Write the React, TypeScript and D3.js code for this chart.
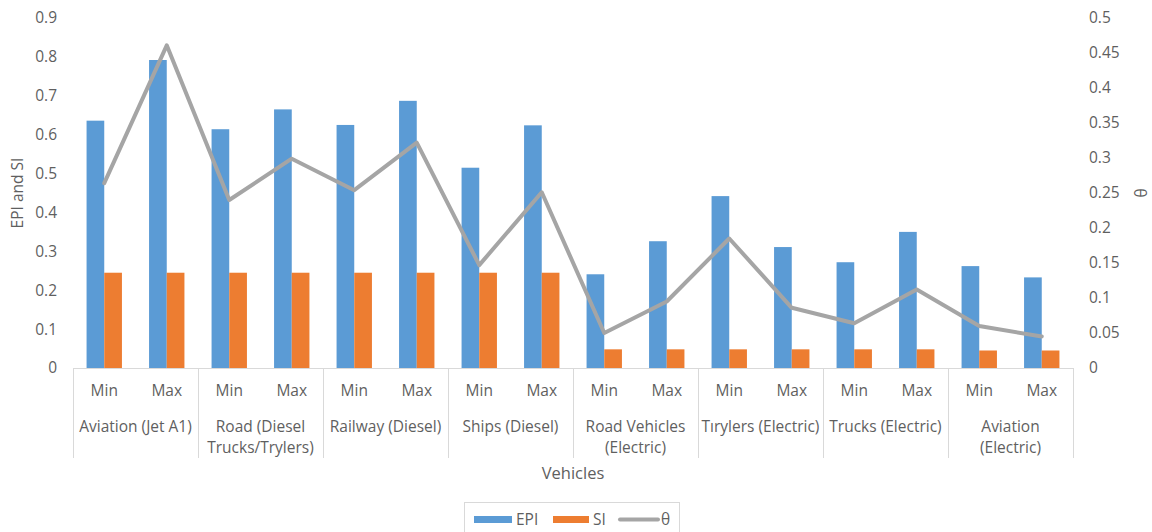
import { useEffect, useRef } from "react";
import * as d3 from "d3";

const WIDTH = 1152;
const HEIGHT = 532;
const PLOT = { left: 73, right: 1073, top: 18, bottom: 368 };

const GROUPS = [
  ["Aviation (Jet A1)"],
  ["Road (Diesel", "Trucks/Trylers)"],
  ["Railway (Diesel)"],
  ["Ships (Diesel)"],
  ["Road Vehicles", "(Electric)"],
  ["Tırylers (Electric)"],
  ["Trucks (Electric)"],
  ["Aviation", "(Electric)"]
];
const LEVELS = ["Min", "Max"];

const EPI = [0.636, 0.792, 0.614, 0.665, 0.625, 0.687, 0.515, 0.624, 0.241, 0.326, 0.442, 0.311, 0.272, 0.35, 0.262, 0.233];
const SI = [0.245, 0.245, 0.245, 0.245, 0.245, 0.245, 0.245, 0.245, 0.048, 0.048, 0.048, 0.048, 0.048, 0.048, 0.045, 0.045];
const THETA = [0.264, 0.461, 0.24, 0.299, 0.254, 0.322, 0.147, 0.251, 0.05, 0.095, 0.185, 0.086, 0.064, 0.112, 0.06, 0.045];

const LEFT_TICKS = [0, 0.1, 0.2, 0.3, 0.4, 0.5, 0.6, 0.7, 0.8, 0.9];
const RIGHT_TICKS = [0, 0.05, 0.1, 0.15, 0.2, 0.25, 0.3, 0.35, 0.4, 0.45, 0.5];

const BLUE = "#5b9bd5";
const ORANGE = "#ed7d31";
const GREY = "#a5a5a5";
const TEXT = "#5f5f5f";
const AXIS = "#d9d9d9";
const FONT = "'Open Sans', sans-serif";
const FS = 15.5;

document.body.style.margin = "0";

export default function App() {
  const svgRef = useRef<SVGSVGElement>(null);

  useEffect(() => {
    const svg = d3.select(svgRef.current);
    svg.selectAll("*").remove();

    const categories = d3.range(EPI.length).map((i) => `${i}`);
    const x = d3.scaleBand().domain(categories).range([PLOT.left, PLOT.right]);
    const bw = x.bandwidth();
    const xSeries = d3.scaleBand().domain(["EPI", "SI"]).range([bw * 0.217, bw * 0.783]);
    const yLeft = d3.scaleLinear().domain([0, 0.9]).range([PLOT.bottom, PLOT.top]);
    const yRight = d3.scaleLinear().domain([0, 0.5]).range([PLOT.bottom, PLOT.top]);

    svg.append("rect").attr("width", WIDTH).attr("height", HEIGHT).attr("fill", "#ffffff");

    // bars
    const bars = svg.append("g");
    categories.forEach((c, i) => {
      bars
        .append("rect")
        .attr("x", x(c)! + xSeries("EPI")!)
        .attr("y", yLeft(EPI[i]))
        .attr("width", xSeries.bandwidth())
        .attr("height", yLeft(0) - yLeft(EPI[i]))
        .attr("fill", BLUE);
      bars
        .append("rect")
        .attr("x", x(c)! + xSeries("SI")!)
        .attr("y", yLeft(SI[i]))
        .attr("width", xSeries.bandwidth())
        .attr("height", yLeft(0) - yLeft(SI[i]))
        .attr("fill", ORANGE);
    });

    // category axis
    const axis = svg.append("g").attr("stroke", AXIS).attr("stroke-width", 1);
    axis
      .append("line")
      .attr("x1", PLOT.left)
      .attr("x2", PLOT.right)
      .attr("y1", PLOT.bottom + 0.5)
      .attr("y2", PLOT.bottom + 0.5);
    d3.range(GROUPS.length + 1).forEach((g) => {
      const gx = g < GROUPS.length ? x(`${g * 2}`)! : PLOT.right;
      axis
        .append("line")
        .attr("x1", Math.round(gx) + 0.5)
        .attr("x2", Math.round(gx) + 0.5)
        .attr("y1", PLOT.bottom)
        .attr("y2", 458);
    });

    const labels = svg
      .append("g")
      .attr("font-family", FONT)
      .attr("font-size", FS)
      .attr("fill", TEXT)
      .attr("text-anchor", "middle");
    categories.forEach((c, i) => {
      labels
        .append("text")
        .attr("x", x(c)! + bw / 2)
        .attr("y", 396)
        .text(LEVELS[i % 2]);
    });
    GROUPS.forEach((lines, g) => {
      const cx = x(`${g * 2}`)! + bw;
      lines.forEach((line, k) => {
        labels
          .append("text")
          .attr("x", cx)
          .attr("y", 432 + k * 21)
          .text(line);
      });
    });

    // theta line
    const line = d3
      .line<number>()
      .x((_, i) => x(categories[i])! + bw / 2)
      .y((d) => yRight(d));
    svg
      .append("path")
      .datum(THETA)
      .attr("fill", "none")
      .attr("stroke", GREY)
      .attr("stroke-width", 4)
      .attr("stroke-linejoin", "round")
      .attr("stroke-linecap", "round")
      .attr("d", line);

    // value axes
    const ticks = svg.append("g").attr("font-family", FONT).attr("font-size", FS).attr("fill", TEXT);
    LEFT_TICKS.forEach((t) => {
      ticks
        .append("text")
        .attr("x", 57)
        .attr("y", yLeft(t))
        .attr("dy", "0.35em")
        .attr("text-anchor", "end")
        .text(d3.format("")(t));
    });
    RIGHT_TICKS.forEach((t) => {
      ticks
        .append("text")
        .attr("x", 1089)
        .attr("y", yRight(t))
        .attr("dy", "0.35em")
        .attr("text-anchor", "start")
        .text(d3.format("")(t));
    });

    svg
      .append("text")
      .attr("transform", `translate(23, ${(PLOT.top + PLOT.bottom) / 2}) rotate(-90)`)
      .attr("text-anchor", "middle")
      .attr("font-family", FONT)
      .attr("font-size", FS)
      .attr("fill", TEXT)
      .text("EPI and SI");

    svg
      .append("text")
      .attr("transform", `translate(1147, ${(PLOT.top + PLOT.bottom) / 2}) rotate(-90)`)
      .attr("text-anchor", "middle")
      .attr("font-family", FONT)
      .attr("font-size", FS)
      .attr("fill", TEXT)
      .text("θ");

    svg
      .append("text")
      .attr("x", 573)
      .attr("y", 479)
      .attr("text-anchor", "middle")
      .attr("font-family", FONT)
      .attr("font-size", 16.5)
      .attr("fill", TEXT)
      .text("Vehicles");

    // legend
    const legend = svg.append("g").attr("font-family", FONT).attr("font-size", FS).attr("fill", TEXT);
    legend
      .append("rect")
      .attr("x", 464.5)
      .attr("y", 502.5)
      .attr("width", 215)
      .attr("height", 40)
      .attr("fill", "none")
      .attr("stroke", AXIS);
    legend.append("rect").attr("x", 474).attr("y", 516).attr("width", 38).attr("height", 7).attr("fill", BLUE);
    legend.append("text").attr("x", 516).attr("y", 525).text("EPI");
    legend.append("rect").attr("x", 553).attr("y", 516).attr("width", 36).attr("height", 7).attr("fill", ORANGE);
    legend.append("text").attr("x", 593).attr("y", 525).text("SI");
    legend
      .append("line")
      .attr("x1", 620)
      .attr("x2", 658)
      .attr("y1", 519.5)
      .attr("y2", 519.5)
      .attr("stroke", GREY)
      .attr("stroke-width", 4)
      .attr("stroke-linecap", "round");
    legend.append("text").attr("x", 661).attr("y", 525).text("θ");
  }, []);

  return <svg ref={svgRef} width={WIDTH} height={HEIGHT} style={{ display: "block" }} />;
}
